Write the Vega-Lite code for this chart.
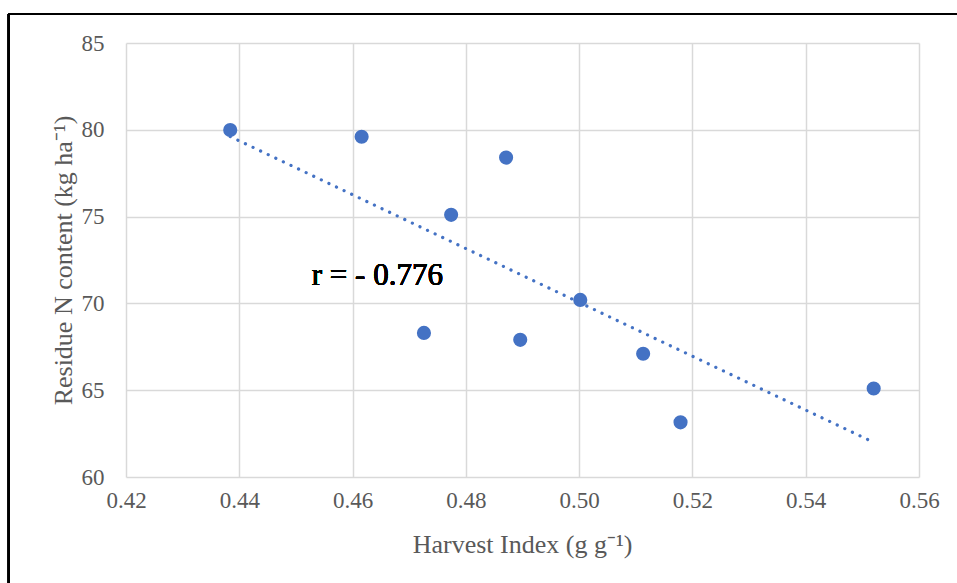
{
  "$schema": "https://vega.github.io/schema/vega-lite/v6.json",
  "width": 793,
  "height": 434,
  "autosize": {"type": "none"},
  "padding": {"left": 126, "top": 43, "right": 38, "bottom": 106},
  "background": "white",
  "config": {
    "view": {"stroke": null},
    "font": "Liberation Serif",
    "axis": {
      "labelFont": "Liberation Serif",
      "titleFont": "Liberation Serif",
      "labelFontSize": 23,
      "titleFontSize": 26,
      "titleFontWeight": "normal",
      "labelColor": "#595959",
      "titleColor": "#595959",
      "gridColor": "#d9d9d9",
      "gridWidth": 1.5,
      "domain": false,
      "ticks": false,
      "labelFlush": false
    }
  },
  "data": {
    "values": [
      {"hi": 0.4384, "res": 79.99},
      {"hi": 0.4616, "res": 79.6},
      {"hi": 0.4871, "res": 78.4},
      {"hi": 0.4774, "res": 75.1},
      {"hi": 0.4726, "res": 68.3},
      {"hi": 0.4896, "res": 67.9},
      {"hi": 0.5002, "res": 70.2},
      {"hi": 0.5113, "res": 67.1},
      {"hi": 0.5179, "res": 63.15},
      {"hi": 0.552, "res": 65.1}
    ]
  },
  "layer": [
    {
      "mark": {"type": "point", "filled": true, "size": 200, "color": "#4472C4", "opacity": 1},
      "encoding": {
        "x": {
          "field": "hi", "type": "quantitative",
          "scale": {"domain": [0.42, 0.56], "nice": false, "zero": false},
          "axis": {
            "title": "Harvest Index (g g⁻¹)",
            "values": [0.42, 0.44, 0.46, 0.48, 0.50, 0.52, 0.54, 0.56],
            "format": ".2f",
            "labelPadding": 12,
            "titleX": 396,
            "titleY": 75,
            "titleAlign": "center",
            "titleBaseline": "alphabetic"
          }
        },
        "y": {
          "field": "res", "type": "quantitative",
          "scale": {"domain": [60, 85], "nice": false, "zero": false},
          "axis": {
            "title": "Residue N content (kg ha⁻¹)",
            "values": [60, 65, 70, 75, 80, 85],
            "labelPadding": 22,
            "titleX": -55,
            "titleY": 217,
            "titleAngle": -90,
            "titleAlign": "center",
            "titleBaseline": "alphabetic"
          }
        }
      }
    },
    {
      "transform": [{"regression": "res", "on": "hi"}],
      "mark": {"type": "line", "color": "#4472C4", "strokeWidth": 3.2, "strokeDash": [0.1, 8.3], "strokeCap": "round"},
      "encoding": {
        "x": {"field": "hi", "type": "quantitative"},
        "y": {"field": "res", "type": "quantitative"}
      }
    },
    {
      "mark": {"type": "text", "text": "r = - 0.776", "font": "Liberation Serif", "fontSize": 31, "fontWeight": 400, "fill": "#000000", "align": "left", "baseline": "alphabetic"},
      "encoding": {
        "x": {"datum": 0.4528, "type": "quantitative"},
        "y": {"datum": 71.06, "type": "quantitative"}
      }
    },
    {
      "mark": {"type": "rule", "color": "black", "strokeWidth": 2, "clip": false},
      "encoding": {
        "x": {"datum": 0.3993, "type": "quantitative"},
        "y": {"datum": 86.67, "type": "quantitative"},
        "y2": {"datum": 50}
      }
    },
    {
      "mark": {"type": "rule", "color": "black", "strokeWidth": 2, "clip": false},
      "encoding": {
        "x": {"datum": 0.3993, "type": "quantitative"},
        "x2": {"datum": 0.6},
        "y": {"datum": 86.67, "type": "quantitative"}
      }
    }
  ]
}
